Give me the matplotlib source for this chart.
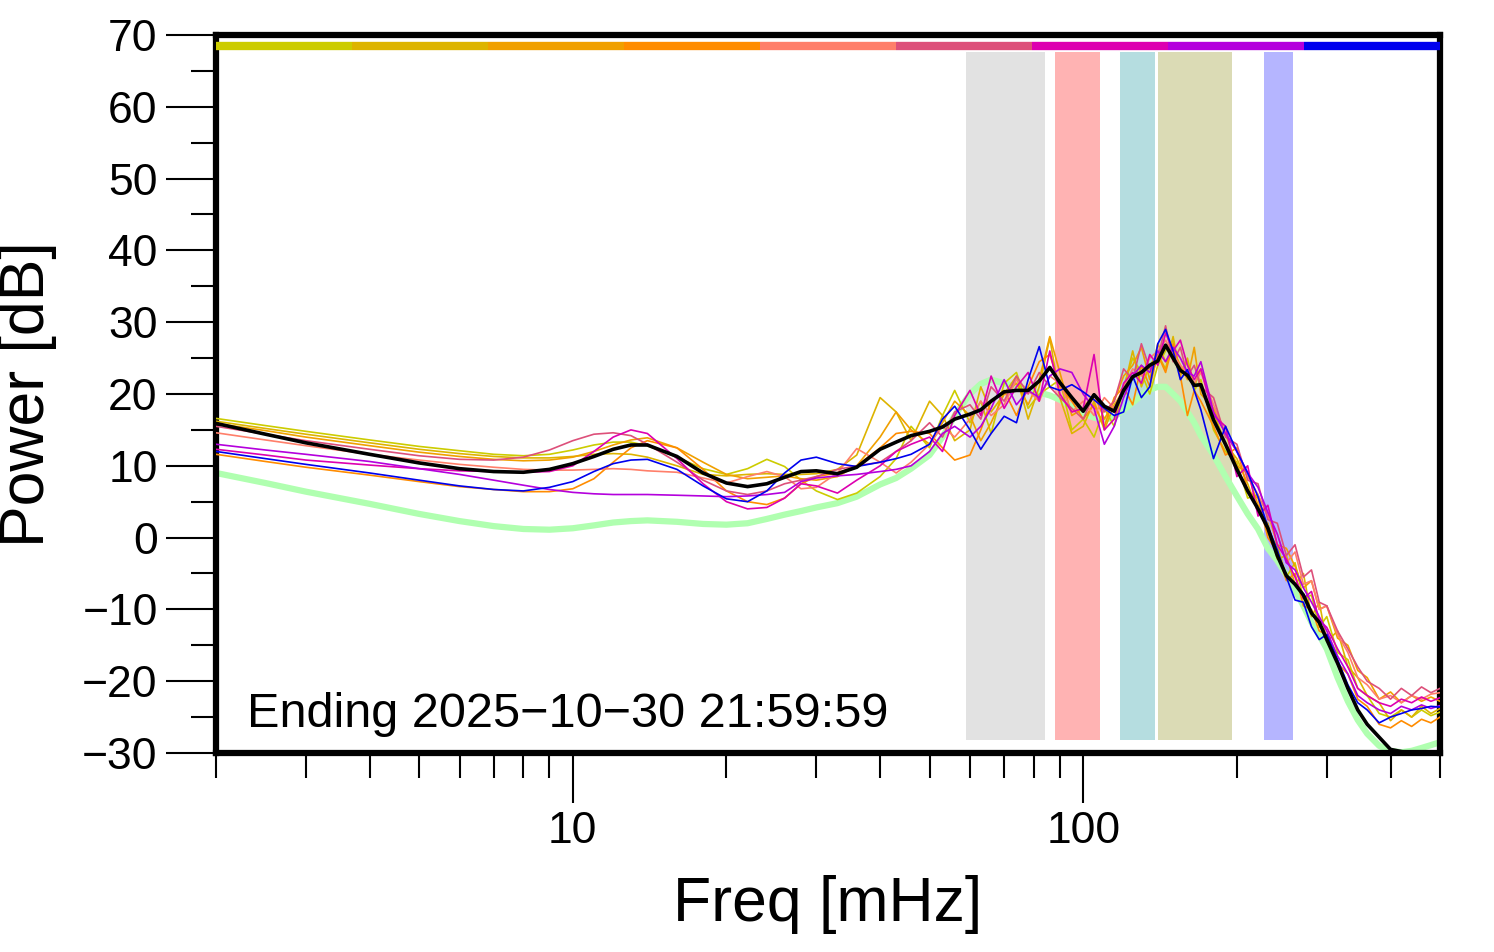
import numpy as np
import matplotlib
matplotlib.use("Agg")
import matplotlib.pyplot as plt
from matplotlib.ticker import FixedLocator, NullFormatter

plt.rcParams['font.family'] = ['Liberation Sans', 'DejaVu Sans']

# ---------- data ----------
freq = [2, 2.5, 3, 4, 5, 6, 7, 8, 9, 10, 11, 12, 13, 14, 16, 18, 20, 22, 24, 26,
        28, 30, 33, 36, 40, 43, 46, 50, 53, 56, 60, 63, 66, 70, 74, 78, 82, 86, 90, 95,
        100, 105, 110, 115, 120, 125, 130, 135, 140, 145, 150, 155, 160, 165, 170, 180, 190, 200, 210, 220,
        230, 240, 250, 260, 270, 280, 290, 300, 315, 330, 345, 360, 380, 400, 420, 440, 460, 480, 500]

p_yellow = [16.6, 15.6, 14.8, 13.6, 12.7, 12.1, 11.6, 11.4, 11.6, 12.2, 12.9, 13.3, 13.3, 12.8, 11.2, 9.6, 8.8, 9.6, 10.9, 9.9,
            8.0, 6.5, 5.3, 6.2, 8.5, 11.0, 15.5, 12.5, 17.0, 20.5, 16.0, 19.0, 14.5, 21.5, 23.0, 18.0, 20.0, 21.0, 22.0, 15.0,
            16.5, 14.0, 18.0, 15.5, 21.0, 25.0, 23.0, 20.0, 24.0, 26.0, 27.5, 23.0, 24.5, 20.5, 22.0, 15.0, 12.0, 10.5, 5.5, 6.0,
            0.5, -1.0, -5.5, -3.5, -8.5, -8.0, -12.5, -11.0, -16.0, -17.0, -21.0, -22.0, -24.5, -25.0, -24.0, -25.0, -24.0, -24.8, -24.3]
p_gold = [16.2, 15.2, 14.4, 13.2, 12.3, 11.7, 11.3, 11.1, 11.1, 11.3, 11.6, 11.7, 11.6, 11.2, 10.0, 8.8, 8.6, 8.8, 8.9, 8.8,
          8.8, 8.9, 9.5, 11.5, 19.5, 17.5, 13.5, 19.0, 17.0, 13.5, 15.0, 21.0, 17.5, 20.0, 22.5, 16.5, 21.0, 27.8, 19.5, 14.5,
          15.5, 19.0, 15.0, 18.5, 20.5, 26.0, 21.0, 24.0, 25.5, 23.5, 28.0, 22.5, 25.0, 21.0, 23.5, 17.5, 13.0, 11.0, 7.5, 3.5,
          2.0, -3.0, -2.5, -6.5, -5.0, -11.0, -9.0, -14.5, -13.0, -18.0, -19.5, -22.0, -23.0, -25.5, -24.0, -25.0, -23.5, -24.5, -23.8]
p_orange = [15.9, 14.9, 14.0, 12.8, 11.9, 11.3, 10.9, 10.7, 10.8, 11.2, 12.0, 12.9, 13.6, 13.9, 12.5, 10.5, 8.8, 8.2, 8.4, 8.6,
            8.2, 8.0, 8.5, 10.0, 14.0, 17.5, 15.0, 13.0, 16.0, 19.0, 17.0, 13.5, 16.0, 20.0, 21.5, 18.5, 22.0, 28.0, 23.0, 17.0,
            18.0, 20.0, 16.5, 19.0, 22.5, 24.0, 26.5, 22.0, 27.0, 24.5, 26.0, 24.0, 22.0, 26.5, 20.0, 18.0, 14.5, 10.0, 9.0, 4.5,
            3.5, -1.0, -1.5, -4.0, -7.0, -6.0, -10.0, -9.5, -14.0, -15.0, -18.5, -19.5, -22.5, -21.5, -23.0, -22.0, -22.8, -22.2, -22.8]
p_darkorange = [11.6, 10.6, 9.8, 8.7, 7.8, 7.1, 6.7, 6.4, 6.4, 6.8, 8.2, 10.5, 12.5, 13.5, 12.5, 9.5, 6.5, 5.0, 4.6, 5.5,
                7.5, 8.5, 9.0, 10.0, 12.5, 14.5, 14.8, 14.5, 12.5, 10.8, 11.5, 15.0, 19.0, 20.5, 17.0, 21.0, 24.5, 25.5, 21.0, 19.0,
                16.5, 18.5, 15.5, 19.5, 21.0, 18.5, 24.0, 21.0, 25.5, 23.0, 27.0, 22.5, 17.0, 20.5, 19.0, 15.5, 11.5, 12.5, 6.5, 5.5,
                0.0, -2.0, -6.0, -5.0, -9.5, -10.0, -13.0, -13.5, -17.5, -19.0, -22.5, -23.5, -26.0, -26.5, -25.5, -26.3, -25.3, -25.8, -25.0]
p_salmon = [14.6, 13.6, 12.8, 11.6, 10.8, 10.2, 9.8, 9.5, 9.4, 9.4, 9.5, 9.6, 9.5, 9.3, 9.1, 8.3, 7.6, 8.5, 9.2, 8.5,
            6.8, 7.0, 9.0, 12.4, 10.5, 9.0, 10.5, 13.0, 15.5, 14.0, 16.5, 19.0, 17.0, 18.5, 22.0, 20.5, 19.0, 22.5, 21.5, 17.5,
            19.0, 17.0, 19.5, 18.0, 21.0, 23.5, 22.5, 25.0, 26.0, 27.5, 25.5, 24.0, 23.0, 21.5, 23.0, 18.5, 14.5, 12.0, 8.5, 6.0,
            3.0, 0.5, -3.5, -2.0, -6.5, -6.0, -10.0, -9.5, -13.5, -16.0, -19.5, -20.5, -22.5, -22.0, -23.0, -22.0, -22.5, -21.8, -21.6]
p_rose = [15.5, 14.4, 13.5, 12.3, 11.4, 10.9, 10.8, 11.2, 12.2, 13.5, 14.4, 14.6, 14.2, 13.0, 10.5, 8.0, 6.5, 6.0, 6.5, 7.5,
          8.0, 8.5, 9.5, 10.0, 10.5, 12.0, 13.5, 16.0, 14.0, 17.5, 18.5, 16.5, 21.0, 19.0, 22.5, 20.0, 23.0, 21.0, 19.5, 18.0,
          16.5, 20.0, 17.5, 19.0, 23.5, 22.0, 27.0, 23.5, 25.0, 29.5, 24.5, 26.5, 22.5, 24.0, 21.0, 19.5, 14.0, 13.0, 8.0, 7.5,
          2.5, 2.0, -2.5, -1.0, -5.5, -4.5, -9.0, -9.5, -13.0, -15.5, -18.0, -20.0, -21.0, -22.5, -21.0, -22.0, -20.8, -21.6, -21.0]
p_magenta = [12.3, 11.5, 10.8, 10.1, 9.6, 9.3, 9.2, 9.1, 9.2, 10.0, 12.0, 14.0, 15.0, 14.5, 11.0, 7.5, 5.0, 4.0, 4.2, 5.5,
             7.5, 7.2, 6.2, 8.0, 10.0, 12.0, 13.0, 14.0, 12.0, 17.0, 20.5, 17.0, 22.5, 18.0, 21.0, 23.0, 19.0, 26.0, 20.0, 17.5,
             18.0, 25.5, 15.0, 16.5, 21.5, 23.0, 21.5, 25.5, 24.0, 28.5, 26.0, 27.5, 24.0, 22.0, 23.5, 17.0, 15.5, 8.5, 10.0, 3.0,
             4.5, -1.0, -3.0, -5.5, -8.5, -7.5, -11.5, -12.5, -15.5, -18.0, -21.0, -22.0, -23.0, -23.5, -22.5, -23.0, -22.2, -22.8, -22.3]
p_purple = [13.0, 12.2, 11.6, 10.6, 9.6, 8.8, 8.0, 7.3, 6.7, 6.3, 6.1, 6.0, 6.0, 6.0, 5.9, 5.8, 5.7, 5.8, 6.0, 6.3,
            7.8, 8.3, 8.6, 8.8, 9.2, 9.5, 10.0, 12.0, 14.5, 15.5, 14.0, 15.5, 18.0, 22.0, 18.5, 20.5, 19.5, 22.5, 23.5, 23.0,
            20.0, 18.0, 13.0, 15.5, 19.5, 22.5, 24.0, 23.0, 26.0, 24.5, 26.5, 25.0, 23.0, 22.5, 24.5, 17.5, 14.5, 12.0, 9.0, 7.0,
            3.5, 0.5, -3.5, -4.5, -7.0, -9.0, -11.0, -13.0, -16.5, -19.0, -22.0, -23.0, -24.0, -24.5, -23.5, -24.0, -23.3, -23.8, -23.4]
p_blue = [12.0, 11.0, 10.2, 9.0, 8.0, 7.2, 6.7, 6.5, 7.0, 7.8, 9.2, 10.3, 10.8, 10.9, 9.5, 7.2, 5.4, 5.0, 6.5, 9.0,
          10.8, 11.2, 10.3, 9.9, 10.5, 11.0, 11.6, 13.0, 16.5, 18.3, 15.0, 12.3, 14.5, 16.9, 16.0, 22.0, 26.6, 21.0, 20.5, 21.3,
          20.3, 19.2, 18.0, 17.0, 17.5, 22.5, 19.5, 21.0, 27.0, 29.0, 26.0, 22.0, 23.4, 20.5, 17.8, 11.0, 15.5, 12.0, 9.0, 5.7,
          1.5, -1.7, -5.5, -8.7, -9.0, -12.4, -14.2, -13.5, -17.0, -20.5, -23.0, -24.0, -25.8, -25.0, -24.5, -24.0, -23.8, -23.5, -23.6]
p_mean = [15.9, 14.4, 13.2, 11.6, 10.4, 9.6, 9.2, 9.1, 9.5, 10.3, 11.3, 12.3, 12.9, 12.9, 11.3, 9.0, 7.6, 7.1, 7.5, 8.4,
          9.2, 9.3, 8.9, 9.8, 12.3, 13.3, 14.2, 14.8, 15.4, 16.5, 17.2, 17.8, 19.0, 20.3, 20.5, 20.5, 21.8, 23.7, 21.6, 19.5,
          17.6, 19.9, 18.3, 17.6, 20.5, 22.4, 23.0, 24.0, 24.6, 26.8, 25.0, 23.3, 22.6, 21.2, 21.3, 16.4, 13.0, 9.5, 6.5, 4.0,
          1.3, -2.5, -5.3, -6.5, -8.0, -10.5, -11.8, -14.2, -17.5, -21.0, -24.0, -26.0, -27.8, -29.5, -29.8, -30.1, -30.2, -30.3, -30.4]
p_floor = [9.0, 7.6, 6.4, 4.7, 3.3, 2.3, 1.6, 1.2, 1.1, 1.3, 1.7, 2.1, 2.3, 2.4, 2.2, 1.9, 1.8, 2.0, 2.6, 3.2,
           3.7, 4.2, 4.8, 5.7, 7.4, 8.3, 9.6, 11.5, 14.0, 17.0, 20.0, 21.4, 22.0, 21.5, 21.0, 20.6, 20.2, 19.8, 19.2, 18.2,
           17.3, 16.7, 16.4, 16.8, 17.8, 18.8, 19.8, 20.6, 21.0, 21.0, 20.0, 19.0, 17.5, 16.0, 14.2, 11.5, 8.5, 5.8, 3.3, 1.2,
           -1.5, -3.2, -5.2, -7.3, -9.5, -11.8, -13.6, -15.5, -19.5, -22.8, -25.4, -27.3, -29.0, -29.7, -29.9, -29.7, -29.3, -28.9, -28.5]

series = [p_yellow, p_gold, p_orange, p_darkorange, p_salmon, p_rose, p_magenta, p_purple, p_blue]
colors = ['#cccc00', '#ddb400', '#f0a000', '#ff8c00', '#ff7f6a', '#dd507a', '#dd00b0', '#b400dd', '#0000ee']

# shaded frequency bands (mHz)
band_lo = [59, 88, 118, 140, 226]
band_hi = [84, 108, 138, 196, 258]
band_colors = ['#e2e2e2', '#ffb3b3', '#b5dde0', '#dbdbb5', '#b5b5ff']

fmin, fmax = 2, 500

# ---------- plot ----------
fig = plt.figure(figsize=(14.94, 9.52), dpi=100)
ax = fig.add_axes([216 / 1494, 1 - 753 / 952, (1440 - 216) / 1494, (753 - 35) / 952])

for lo, hi, c in zip(band_lo, band_hi, band_colors):
    ax.fill_between([lo, hi], -28.2, 67.6, color=c, lw=0, zorder=1)

# colour key along the top
edges = np.geomspace(fmin, fmax, len(colors) + 1)
for i, c in enumerate(colors):
    ax.plot([edges[i], edges[i + 1]], [68.5, 68.5], color=c, lw=6, solid_capstyle='butt', zorder=3)

ax.plot(freq, p_floor, color='#b0ffb0', lw=4.5, zorder=2)
for y, c in zip(series, colors):
    ax.plot(freq, y, color=c, lw=1.2, zorder=3)
ax.plot(freq, p_mean, color='black', lw=2.6, zorder=4)

ax.set_xscale('log')
ax.set_xlim(fmin, fmax)
ax.set_ylim(-30, 70)

ax.xaxis.set_major_locator(FixedLocator([10, 100]))
ax.xaxis.set_minor_locator(FixedLocator([2, 3, 4, 5, 6, 7, 8, 9, 20, 30, 40, 50, 60, 70, 80, 90,
                                         200, 300, 400, 500]))
ax.set_xticks([10, 100])
ax.set_xticklabels(['10', '100'])
ax.xaxis.set_minor_formatter(NullFormatter())
ax.set_yticks(np.arange(-30, 71, 10))
ax.set_yticks(np.arange(-25, 70, 10), minor=True)

ax.tick_params(which='major', direction='out', length=36, width=1.5, labelsize=32, pad=6)
ax.tick_params(which='minor', direction='out', length=18, width=1.5)
ax.tick_params(top=False, right=False)

for s in ax.spines.values():
    s.set_linewidth(4.5)

ax.set_xlabel('Freq [mHz]', fontsize=45, labelpad=16)
ax.set_ylabel('Power [dB]', fontsize=45, labelpad=18)

ax.text(0.025, 0.022, 'Ending 2025\u221210\u221230 21:59:59', transform=ax.transAxes,
        fontsize=35, ha='left', va='bottom', zorder=5)

fig.savefig('out.png', dpi=100)
